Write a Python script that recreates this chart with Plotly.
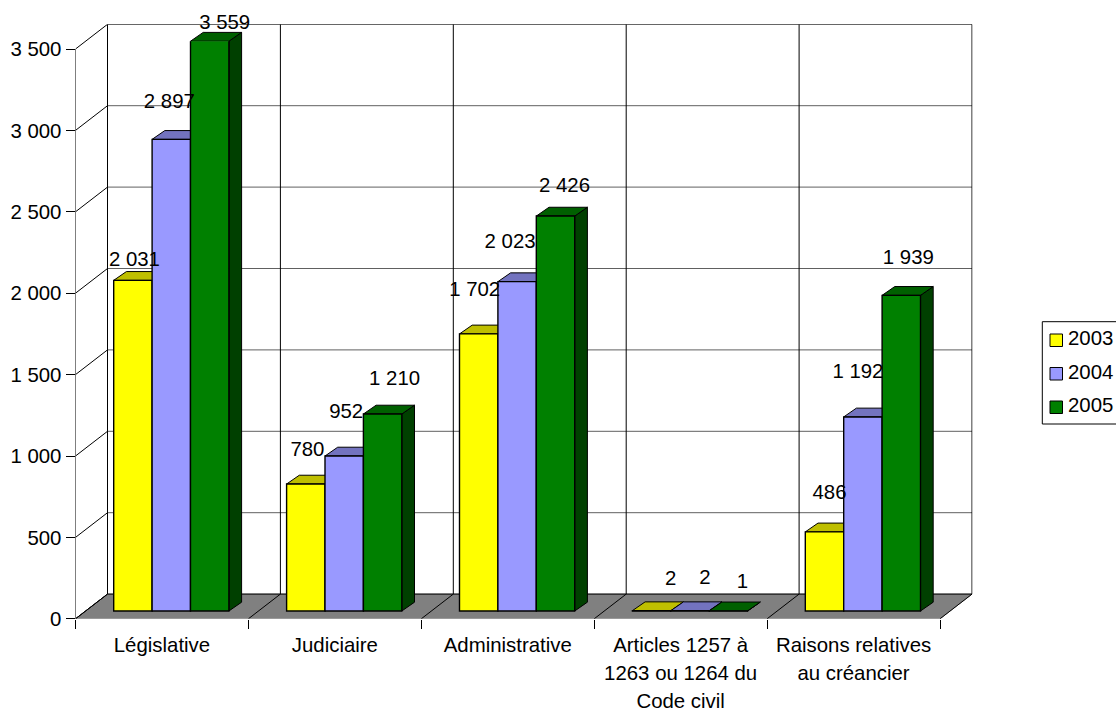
import plotly.graph_objects as go

# Data
CATEGORIES = [
    "Législative",
    "Judiciaire",
    "Administrative",
    "Articles 1257 à<br>1263 ou 1264 du<br>Code civil",
    "Raisons relatives<br>au créancier",
]
VALUES_2003 = [2031, 780, 1702, 2, 486]
VALUES_2004 = [2897, 952, 2023, 2, 1192]
VALUES_2005 = [3559, 1210, 2426, 1, 1939]
YEARS = ["2003", "2004", "2005"]
Y_TICKS = [0, 500, 1000, 1500, 2000, 2500, 3000, 3500]
Y_TICK_LABELS = ["0", "500", "1 000", "1 500", "2 000", "2 500", "3 000", "3 500"]

# Page geometry, in pixels
WIDTH, HEIGHT = 1116, 711
LEFT, RIGHT = 75.5, 972.5
BOTTOM, TOP = 618.8, 24.3
PX_PER_CATEGORY = 172.9
PX_PER_VALUE = 81.4 / 500
AXIS_MAX = 3500
ROW_HEIGHT = 28
FONT = dict(family="Liberation Sans, Arial, sans-serif", size=20.4, color="black")

# Colours of each series: front, top and side faces
FRONT = ["#FFFF00", "#9999FF", "#008000"]
TOP_FACE = ["#BFBF00", "#7373BF", "#006000"]
SIDE_FACE = ["#808000", "#4D4D80", "#004000"]
FLOOR = "#808080"

# Nudges of the value labels from each bar's top centre, in pixels
LABEL_NUDGES = [
    [(1.5, -19.8), (1.6, -33), (-4, -43), (19, -31), (5, -38)],
    [(-2, -36), (2, -43), (-7, -39), (15, -32), (-5, -44)],
    [(15, -8), (12, -34), (9, -29.5), (14, -28), (7, -36)],
]

px_x = lambda px: px / PX_PER_CATEGORY
px_y = lambda px: px / PX_PER_VALUE

# Depth of the chart box, and of the bars standing on its floor
WALL_DX, WALL_DY = px_x(32), px_y(24.7)
BAR_DX, BAR_DY = px_x(12.7), px_y(8.8)
BAR_BASE = px_y(BOTTOM - 611)
BAR_WIDTH = px_x(38.4)
GROUP_START = px_x(38.2)

series = [VALUES_2003, VALUES_2004, VALUES_2005]
n_cat = len(CATEGORIES)


def bar_left(cat, s):
    return cat + GROUP_START + s * BAR_WIDTH


def polygons(shapes):
    xs, ys = [], []
    for shape in shapes:
        xs += [p[0] for p in shape] + [shape[0][0], None]
        ys += [p[1] for p in shape] + [shape[0][1], None]
    return xs, ys


fig = go.Figure()


def add_lines(segments, color="black", width=1):
    xs, ys = [], []
    for a, b in segments:
        xs += [a[0], b[0], None]
        ys += [a[1], b[1], None]
    fig.add_trace(go.Scatter(x=xs, y=ys, mode="lines", cliponaxis=False, hoverinfo="skip",
                             line=dict(color=color, width=width), showlegend=False))


# Floor of the box
fx, fy = polygons([[(0, 0), (n_cat, 0), (n_cat + WALL_DX, WALL_DY), (WALL_DX, WALL_DY)]])
fig.add_trace(go.Scatter(x=fx, y=fy, mode="lines", fill="toself", fillcolor=FLOOR,
                         line=dict(color=FLOOR, width=1), hoverinfo="skip",
                         cliponaxis=False, showlegend=False))

# Horizontal gridlines on the side and back walls
add_lines([((0, v), (WALL_DX, v + WALL_DY)) for v in Y_TICKS])
add_lines([((WALL_DX, v + WALL_DY), (n_cat + WALL_DX, v + WALL_DY)) for v in Y_TICKS[1:-1]], "#606060")
# Top and floor edges of the back wall
add_lines([((WALL_DX, Y_TICKS[-1] + WALL_DY), (n_cat + WALL_DX, Y_TICKS[-1] + WALL_DY)),
           ((WALL_DX, WALL_DY), (n_cat + WALL_DX, WALL_DY))])
# Vertical gridlines on the back wall and floor separators
add_lines([((c + WALL_DX, WALL_DY), (c + WALL_DX, Y_TICKS[-1] + WALL_DY)) for c in range(n_cat + 1)])
add_lines([((c, 0), (c + WALL_DX, WALL_DY)) for c in range(n_cat + 1)])
# Value axis line
add_lines([((0, 0), (0, Y_TICKS[-1]))])

# Top and side faces, stopped at the end of the value axis as the front faces are
for s, values in enumerate(series):
    tops, sides = [], []
    for c, v in enumerate(values):
        h = BAR_BASE + min(v, AXIS_MAX)
        x0 = bar_left(c, s)
        x1 = x0 + BAR_WIDTH
        tops.append([(x0, h), (x1, h), (x1 + BAR_DX, h + BAR_DY), (x0 + BAR_DX, h + BAR_DY)])
        sides.append([(x1, BAR_BASE), (x1 + BAR_DX, BAR_BASE + BAR_DY),
                      (x1 + BAR_DX, h + BAR_DY), (x1, h)])
    for shapes, colors in ((sides, SIDE_FACE), (tops, TOP_FACE)):
        xs, ys = polygons(shapes)
        fig.add_trace(go.Scatter(x=xs, y=ys, mode="lines", fill="toself", fillcolor=colors[s],
                                 line=dict(color="black", width=1), hoverinfo="skip",
                                 cliponaxis=False, showlegend=False))

# Front faces live on a second pair of axes that ends at the value axis maximum,
# so the tallest bar is cut there
for s, values in enumerate(series):
    fig.add_trace(go.Bar(
        x=[bar_left(c, s) + BAR_WIDTH / 2 for c in range(n_cat)],
        y=values, base=BAR_BASE, width=BAR_WIDTH, name=YEARS[s],
        marker=dict(color=FRONT[s], line=dict(color="black", width=1.4)),
        xaxis="x2", yaxis="y2", showlegend=False,
    ))

# Value labels sit on a third pair of axes, above the bars
for s, values in enumerate(series):
    fig.add_trace(go.Scatter(
        x=[bar_left(c, s) + BAR_WIDTH / 2 + px_x(LABEL_NUDGES[s][c][0]) for c in range(n_cat)],
        y=[BAR_BASE + v - px_y(LABEL_NUDGES[s][c][1]) for c, v in enumerate(values)],
        mode="text", text=[f"{v:,}".replace(",", " ") for v in values],
        textposition="middle center", textfont=FONT, cliponaxis=False,
        xaxis="x3", yaxis="y3", showlegend=False, hoverinfo="skip",
    ))

# An empty trace keeps the axis of the third label row on the page
fig.add_trace(go.Scatter(x=[None], y=[None], mode="lines", xaxis="x4", yaxis="y3",
                         showlegend=False, hoverinfo="skip"))

x_range = [0, (RIGHT - LEFT) / PX_PER_CATEGORY]
x_domain = [LEFT / WIDTH, RIGHT / WIDTH]
y_domain = [1 - BOTTOM / HEIGHT, 1 - TOP / HEIGHT]
clip_top = BOTTOM - (AXIS_MAX + BAR_BASE) * PX_PER_VALUE

# Legend box with its swatches
LEGEND_BOX = (1042.3, 321.7, 1118, 424)
SWATCH_TOPS = [334, 367.5, 401]
shapes = [dict(type="rect", xref="paper", yref="paper",
               x0=LEGEND_BOX[0] / WIDTH, x1=LEGEND_BOX[2] / WIDTH,
               y0=1 - LEGEND_BOX[1] / HEIGHT, y1=1 - LEGEND_BOX[3] / HEIGHT,
               line=dict(color="black", width=1), fillcolor="white")]
annotations = []
for s, year in enumerate(YEARS):
    t = SWATCH_TOPS[s]
    shapes.append(dict(type="rect", xref="paper", yref="paper",
                       x0=1050 / WIDTH, x1=1062.5 / WIDTH,
                       y0=1 - t / HEIGHT, y1=1 - (t + 12.5) / HEIGHT,
                       line=dict(color="black", width=1), fillcolor=FRONT[s]))
    annotations.append(dict(text=year, xref="paper", yref="paper", showarrow=False,
                            x=1066 / WIDTH, y=1 - (t + 4) / HEIGHT, xanchor="left",
                            yanchor="middle", font=FONT))


# Category labels are set one row per axis, for the wider line spacing
def label_row(r):
    parts = [c.split("<br>") for c in CATEGORIES]
    return [p[r] if r < len(p) else "" for p in parts]


def row_axis(r, **extra):
    return dict(
        domain=x_domain, range=x_range, showgrid=False, zeroline=False, showline=False,
        automargin=False, tickmode="array", tickvals=[c + 0.5 for c in range(n_cat)],
        ticktext=label_row(r), ticks="", ticklabelstandoff=12 + r * ROW_HEIGHT,
        tickangle=0, tickfont=FONT, **extra,
    )


fig.update_layout(
    width=WIDTH, height=HEIGHT, autosize=False,
    margin=dict(l=0, r=0, t=0, b=0, pad=0),
    paper_bgcolor="white", plot_bgcolor="rgba(0,0,0,0)",
    font=FONT, showlegend=False, shapes=shapes, annotations=annotations,
    xaxis=row_axis(0, minor=dict(tickmode="array", tickvals=list(range(n_cat + 1)),
                                 ticks="outside", ticklen=9, tickcolor="black",
                                 tickwidth=1, showgrid=False)),
    yaxis=dict(
        domain=y_domain, range=[0, (BOTTOM - TOP) / PX_PER_VALUE], showgrid=False,
        automargin=False,
        zeroline=False, showline=False, tickmode="array", tickvals=Y_TICKS,
        ticktext=Y_TICK_LABELS, ticks="outside", ticklen=9, tickcolor="black", tickwidth=1,
        tickfont=FONT,
    ),
    xaxis2=dict(domain=x_domain, range=x_range, visible=False, anchor="y2", automargin=False),
    yaxis2=dict(domain=[y_domain[0], 1 - clip_top / HEIGHT],
                range=[0, AXIS_MAX + BAR_BASE], visible=False, anchor="x2", automargin=False),
    xaxis3=row_axis(1, anchor="y3"),
    # The label axes run to the top of the page so no label falls outside their range
    yaxis3=dict(domain=[y_domain[0], 1], range=[0, BOTTOM / PX_PER_VALUE], visible=False,
                anchor="x3", automargin=False),
    xaxis4=row_axis(2, anchor="y3"),
    barmode="overlay",
)

fig.write_html("out.html")
